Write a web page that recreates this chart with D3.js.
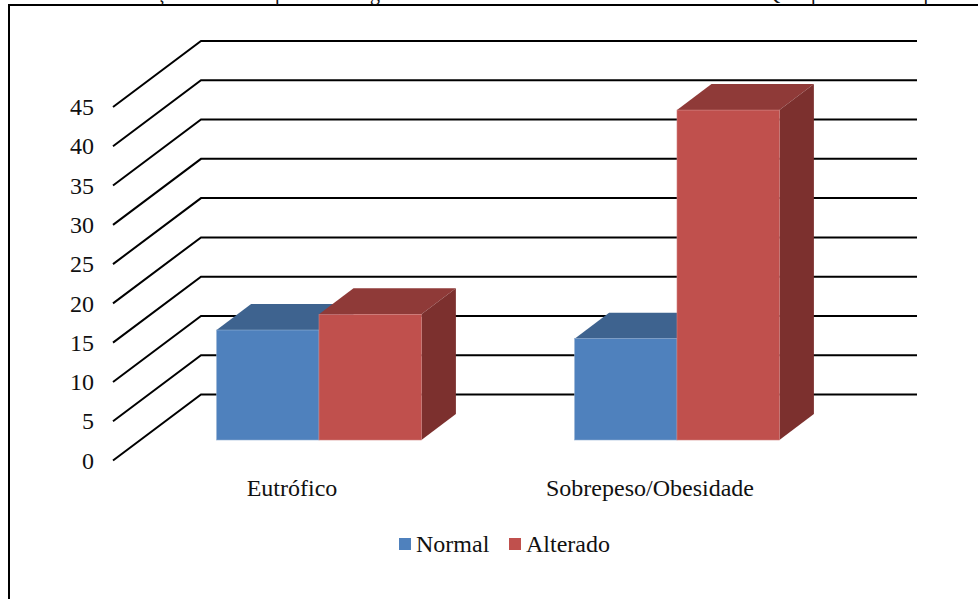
<!DOCTYPE html>
<html>
<head>
<meta charset="utf-8">
<script src="https://cdn.jsdelivr.net/npm/d3@7"></script>
<style>
  html, body { margin: 0; background: #fff; }
  svg { display: block; }
  text { font-family: "Liberation Serif", serif; fill: #111; }
</style>
</head>
<body>
<svg id="chart" width="978" height="599"></svg>
<script>
const categories = ["Eutrófico", "Sobrepeso/Obesidade"];
const seriesNames = ["Normal", "Alterado"];
const normalValues = [14, 12.9];
const alteradoValues = [16, 42];
const yTicks = [0, 5, 10, 15, 20, 25, 30, 35, 40, 45];

// caption cut off by the top of the picture, only the descenders show
const captionGlyphs = ["ç", "p", "g", "Q", "p", "q"];
const captionX = [161, 280, 375, 773, 816, 923];

const colors = {
  Normal: {front: "#4f81bd", top: "#3e638f", side: "#37587f", edge: "#8fadd2"},
  Alterado: {front: "#c0504d", top: "#8f3a38", side: "#7c302e", edge: "#cf7f7d"}
};

const svg = d3.select("#chart");
const fontSize = 24;

// the floor is drawn in oblique: wall sits 88 right and 66 up from the front edge
const wall = {dx: 88, dy: -66};
const barFront = {dx: 27, dy: -20.5};
const barDepth = {dx: 34.5, dy: -26};

const y = d3.scaleLinear().domain([0, 45]).range([460.5, 107]);
const x = d3.scaleBand().domain(categories).range([113, 829]);
const xSeries = d3.scaleBand().domain(seriesNames).range([0, x.bandwidth()])
  .paddingInner(0).paddingOuter(0.748);

// frame, runs off the right and bottom of the picture
svg.append("rect")
  .attr("x", 9).attr("y", 5)
  .attr("width", 1000).attr("height", 640)
  .attr("fill", "none").attr("stroke", "#000").attr("stroke-width", 2);

svg.append("g").selectAll("text")
  .data(captionGlyphs).enter()
  .append("text")
  .attr("x", (d, i) => captionX[i])
  .attr("y", 0)
  .attr("text-anchor", "middle")
  .attr("font-size", 20)
  .text(d => d);

// gridlines
const gridLine = d3.line();
svg.append("g").selectAll("path")
  .data(yTicks).enter()
  .append("path")
  .attr("d", d => gridLine([
    [x.range()[0], y(d)],
    [x.range()[0] + wall.dx, y(d) + wall.dy],
    [x.range()[1] + wall.dx, y(d) + wall.dy]
  ]))
  .attr("fill", "none")
  .attr("stroke", "#000")
  .attr("stroke-width", 2);

svg.append("g").selectAll("text")
  .data(yTicks).enter()
  .append("text")
  .attr("x", 94)
  .attr("y", d => y(d))
  .attr("dy", "0.34em")
  .attr("text-anchor", "end")
  .attr("font-size", fontSize)
  .text(d => d);

// one block per value, series in order so the red covers the blue side
const bars = [];
seriesNames.forEach((name, s) => {
  const values = s === 0 ? normalValues : alteradoValues;
  categories.forEach((cat, c) => bars.push({name: name, cat: cat, value: values[c]}));
});

const poly = d3.line();
const block = svg.append("g").selectAll("g")
  .data(bars).enter()
  .append("g");

function corners(d) {
  let x0 = x(d.cat) + xSeries(d.name) + barFront.dx,
      x1 = x0 + xSeries.bandwidth(),
      top = y(d.value) + barFront.dy,
      base = y(0) + barFront.dy;
  return {x0, x1, top, base};
}

block.append("path")
  .attr("d", d => {
    let k = corners(d);
    return poly([[k.x0, k.top], [k.x0 + barDepth.dx, k.top + barDepth.dy],
      [k.x1 + barDepth.dx, k.top + barDepth.dy], [k.x1, k.top]]) + "Z";
  })
  .attr("fill", d => colors[d.name].top);

block.append("path")
  .attr("d", d => {
    let k = corners(d);
    return poly([[k.x1, k.top], [k.x1 + barDepth.dx, k.top + barDepth.dy],
      [k.x1 + barDepth.dx, k.base + barDepth.dy], [k.x1, k.base]]) + "Z";
  })
  .attr("fill", d => colors[d.name].side);

block.append("rect")
  .attr("x", d => corners(d).x0)
  .attr("y", d => corners(d).top)
  .attr("width", xSeries.bandwidth())
  .attr("height", d => corners(d).base - corners(d).top)
  .attr("fill", d => colors[d.name].front)
  .attr("stroke", d => colors[d.name].edge)
  .attr("stroke-width", 0.6);

svg.append("g").selectAll("text")
  .data(categories).enter()
  .append("text")
  .attr("x", d => x(d) + x.bandwidth() / 2)
  .attr("y", 496)
  .attr("text-anchor", "middle")
  .attr("font-size", fontSize)
  .text(d => d);

// legend
const legendX = d3.scaleOrdinal().domain(seriesNames).range([399, 509]);
const legend = svg.append("g").selectAll("g")
  .data(seriesNames).enter()
  .append("g")
  .attr("transform", d => `translate(${legendX(d)},538)`);

legend.append("rect")
  .attr("width", 12).attr("height", 12)
  .attr("fill", d => colors[d].front);

legend.append("text")
  .attr("x", 17)
  .attr("y", 14)
  .attr("font-size", fontSize)
  .text(d => d);
</script>
</body>
</html>
